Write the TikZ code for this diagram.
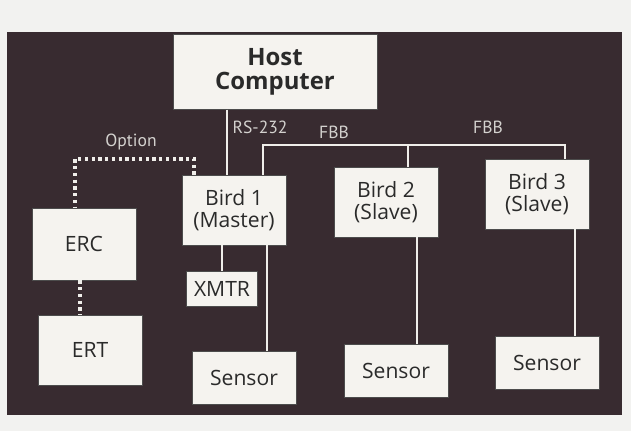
\documentclass[tikz,border=0pt]{standalone}
\usepackage{fontspec}
\setmainfont{Open Sans}
\newfontfamily\labelfont{PT Sans}
\usetikzlibrary{positioning,calc}
\definecolor{panelbg}{HTML}{382B30}
\definecolor{boxfill}{HTML}{F5F3EF}
\definecolor{boxtext}{HTML}{2A2A2A}
\definecolor{pagebg}{HTML}{F2F2F0}
\definecolor{wirewhite}{HTML}{F0EEEA}
\tikzset{
    unit/.style={draw=black!70,fill=boxfill,text=boxtext,align=center,inner sep=2pt,
        font=\fontsize{15}{15.5}\selectfont},
    birdbox/.style={unit,minimum width=2.6cm,minimum height=1.75cm},
    sensbox/.style={unit,minimum width=2.6cm,minimum height=1.32cm},
    hostbox/.style={unit,minimum width=5.1cm,minimum height=1.87cm,
        font=\bfseries\fontsize{17}{17}\selectfont},
    wire/.style={draw=wirewhite,line width=1.5pt},
    optline/.style={draw=wirewhite,line width=2.4pt,dash pattern=on 2.4pt off 2.4pt},
    tag/.style={text=wirewhite!88!black,font=\labelfont\fontsize{12.5}{13}\selectfont,inner sep=1pt},
}

\begin{document}
\begin{tikzpicture}[x=0.025cm,y=-0.025cm]
    \fill[pagebg] (0,0) rectangle (631,431);
    \fill[panelbg] (7,32) rectangle (622,415);
    \useasboundingbox (0,0) rectangle (631,431);

    % boxes
    \node[hostbox] (host) at (275,72) {Host\\Computer};
    \node[birdbox] (bird1) at (234,210) {Bird 1\\(Master)};
    \node[birdbox] (bird2) at (386,202) {Bird 2\\(Slave)};
    \node[birdbox] (bird3) at (537,194) {Bird 3\\(Slave)};
    \node[unit,minimum width=1.77cm,minimum height=0.87cm] (xmtr) at (222,289) {XMTR};
    \node[sensbox] (sens1) at (244,378) {Sensor};
    \node[sensbox] (sens2) at (396,371) {Sensor};
    \node[sensbox] (sens3) at (547,363) {Sensor};
    \node[birdbox,minimum height=1.8cm] (erc) at (84,244) {ERC};
    \node[birdbox] (ert) at (90,350) {ERT};

    % columns and corners of the lines
    \coordinate (rsx) at (227,0);
    \coordinate (busl) at (263,145);
    \coordinate (bus2) at (408,145);
    \coordinate (busr) at (565,145);
    \coordinate (s1x) at (267,0);
    \coordinate (s2x) at (417,0);
    \coordinate (s3x) at (575,0);
    \coordinate (optl) at (75,159);
    \coordinate (optr) at (194,159);
    \coordinate (ercx) at (80,0);

    % RS-232 and FBB
    \draw[wire] (host.south -| rsx) -- (bird1.north -| rsx);
    \draw[wire] (bird1.north -| busl) |- (busr) -- (bird3.north -| busr);
    \draw[wire] (bus2) -- (bird2.north -| bus2);
    \draw[wire] (bird1.south -| xmtr.north) -- (xmtr.north);
    \draw[wire] (bird1.south -| s1x) -- (sens1.north -| s1x);
    \draw[wire] (bird2.south -| s2x) -- (sens2.north -| s2x);
    \draw[wire] (bird3.south -| s3x) -- (sens3.north -| s3x);

    % optional ERC/ERT
    \draw[optline] (bird1.north -| optr) -- (optr) -- (optl) -- (erc.north -| optl);
    \draw[optline] (erc.south -| ercx) -- (ert.north -| ercx);

    \node[tag,anchor=west] (rs) at (231,127) {RS-232};
    \node[tag] (fbb1) at (334,132) {FBB};
    \node[tag] (fbb2) at (488,127) {FBB};
    \node[tag] (opt) at (131,142) {Option};
\end{tikzpicture}
\end{document}
